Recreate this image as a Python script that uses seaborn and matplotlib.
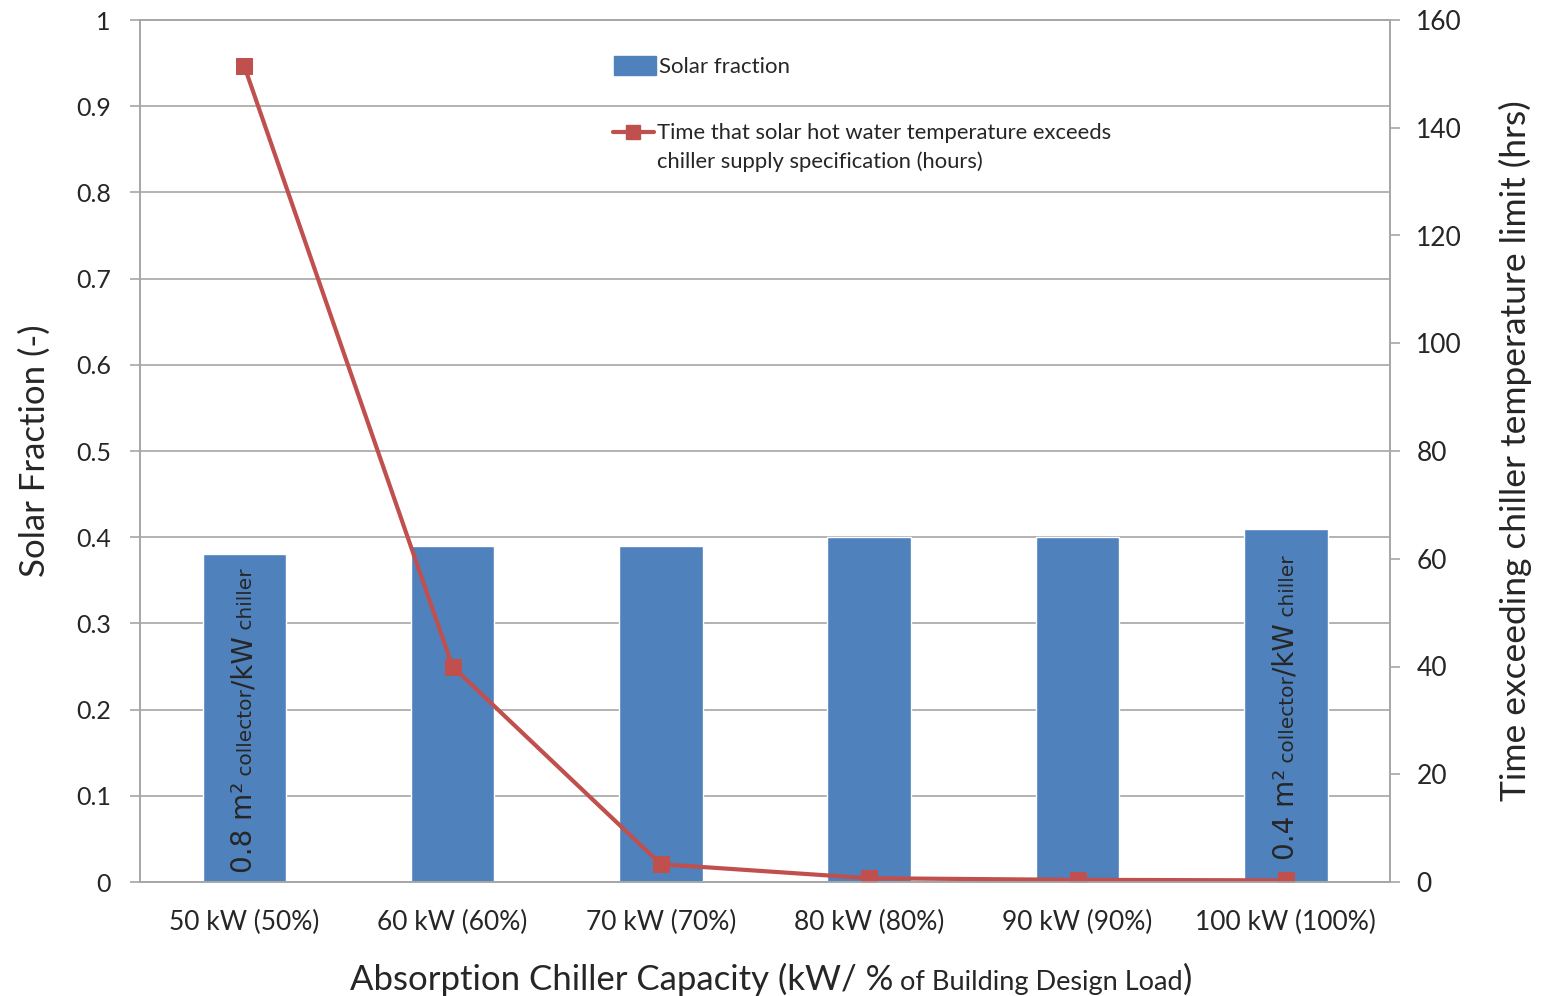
import numpy as np
import pandas as pd
import seaborn as sns
import matplotlib.pyplot as plt
from matplotlib.lines import Line2D
from matplotlib.transforms import ScaledTranslation

# chart data
capacity = ['50 kW (50%)', '60 kW (60%)', '70 kW (70%)', '80 kW (80%)', '90 kW (90%)', '100 kW (100%)']
solar_fraction = [0.38, 0.39, 0.39, 0.40, 0.40, 0.41]
hours_exceeding = [151.5, 40.0, 3.3, 0.7, 0.4, 0.3]
left_ticks = [0, 0.1, 0.2, 0.3, 0.4, 0.5, 0.6, 0.7, 0.8, 0.9, 1]
right_ticks = [0, 20, 40, 60, 80, 100, 120, 140, 160]

bar_color = '#4F81BD'
line_color = '#C0504D'
grid_color = '#A6A6A6'

sns.set_style('white')
plt.rcParams['font.family'] = ['Lato', 'DejaVu Sans']

df = pd.DataFrame({'capacity': capacity, 'solar': solar_fraction, 'hours': hours_exceeding})

fig = plt.figure(figsize=(15.42, 9.96), dpi=100)
ax = fig.add_axes([140 / 1542, 1 - 882 / 996, 1250 / 1542, 862 / 996])

sns.barplot(data=df, x='capacity', y='solar', color=bar_color, width=0.4,
            saturation=1, ax=ax, zorder=2)
ax.set_ylim(0, 1)
ax.set_xlim(-0.5, len(capacity) - 0.5)
ax.set_yticks(left_ticks)
ax.set_yticklabels(['0' if t == 0 else ('1' if t == 1 else f'{t:g}') for t in left_ticks])
for t in left_ticks:
    ax.axhline(t, color=grid_color, lw=1.2, zorder=0)

ax.set_xticks(range(len(capacity)))
ax.set_xticklabels(capacity, fontsize=19)
ax.set_xticks(np.arange(-0.5, len(capacity)), minor=True)
ax.tick_params(axis='x', which='major', length=0, pad=20)
ax.tick_params(axis='x', which='minor', length=7, direction='out', color=grid_color, width=1.2)
ax.tick_params(axis='y', length=7, direction='out', color=grid_color, width=1.2, labelsize=18, pad=14)
ax.set_xlabel('')
ax.set_ylabel('Solar Fraction (-)', fontsize=25, labelpad=18)

for s in ax.spines.values():
    s.set_color(grid_color)
    s.set_linewidth(1.2)

# secondary axis: hours
ax2 = ax.twinx()
sns.lineplot(x=np.arange(len(capacity)), y=hours_exceeding, ax=ax2, color=line_color,
             marker='s', markersize=11, markeredgecolor=line_color, lw=3, legend=False)
ax2.set_ylim(0, 160)
ax2.set_yticks(right_ticks)
ax2.tick_params(axis='y', length=7, direction='out', color=grid_color, width=1.2, labelsize=19, pad=12)
ax2.set_ylabel('Time exceeding chiller temperature limit (hrs)', fontsize=25.5, labelpad=26)
for s in ax2.spines.values():
    s.set_color(grid_color)
    s.set_linewidth(1.2)

# legends (stacked like the original)
bar_handle = plt.Rectangle((0, 0), 1, 1, color=bar_color)
line_handle = Line2D([], [], color=line_color, lw=3, marker='s', markersize=10)
blank = Line2D([], [], color='none')
leg1 = ax2.legend([bar_handle], ['Solar fraction'], loc='center left', bbox_to_anchor=(0.379, 0.946),
                  frameon=False, fontsize=16, handlelength=1.9, handleheight=0.9, handletextpad=0.15,
                  borderaxespad=0, borderpad=0)
ax2.add_artist(leg1)
ax2.legend([line_handle, blank],
           ['Time that solar hot water temperature exceeds', 'chiller supply specification (hours)'],
           loc='upper left', bbox_to_anchor=(0.378, 0.880), frameon=False, fontsize=15.8,
           handlelength=1.9, handletextpad=0.15, borderaxespad=0, borderpad=0, labelspacing=0.35)


# rotated mixed-size annotations inside first and last bars (baseline aligned)
renderer = fig.canvas.get_renderer()


def rotated_note(xpos, ystart, pieces, base_shift_px=8):
    offset = 0.0
    for txt, size in pieces:
        tr = ax.transData + ScaledTranslation(base_shift_px / fig.dpi, offset / fig.dpi, fig.dpi_scale_trans)
        t = ax.text(xpos, ystart, txt, rotation=90, rotation_mode='anchor', fontsize=size,
                    family='DejaVu Sans', ha='left', va='baseline', transform=tr, zorder=5)
        offset += t.get_window_extent(renderer).height


rotated_note(0, 0.01, [('0.8 m\u00b2', 20), (' collector', 14.5), ('/kW', 20), (' chiller', 14.5)])
rotated_note(5, 0.025, [('0.4 m\u00b2', 20), (' collector', 14.5), ('/kW', 20), (' chiller', 14.5)])

# x axis label with mixed sizes
xl = fig.text(350 / 1542, 0, 'Absorption Chiller Capacity (kW/ %', fontsize=25,
              ha='left', va='bottom')
p = ax.annotate(' of Building Design Load', xy=(1, 0.03), xycoords=xl, fontsize=19.5,
                ha='left', va='bottom', annotation_clip=False)
q = ax.annotate(')', xy=(1, -0.03), xycoords=p, fontsize=25, ha='left', va='bottom',
                annotation_clip=False)

fig.savefig('out.png', dpi=100)
